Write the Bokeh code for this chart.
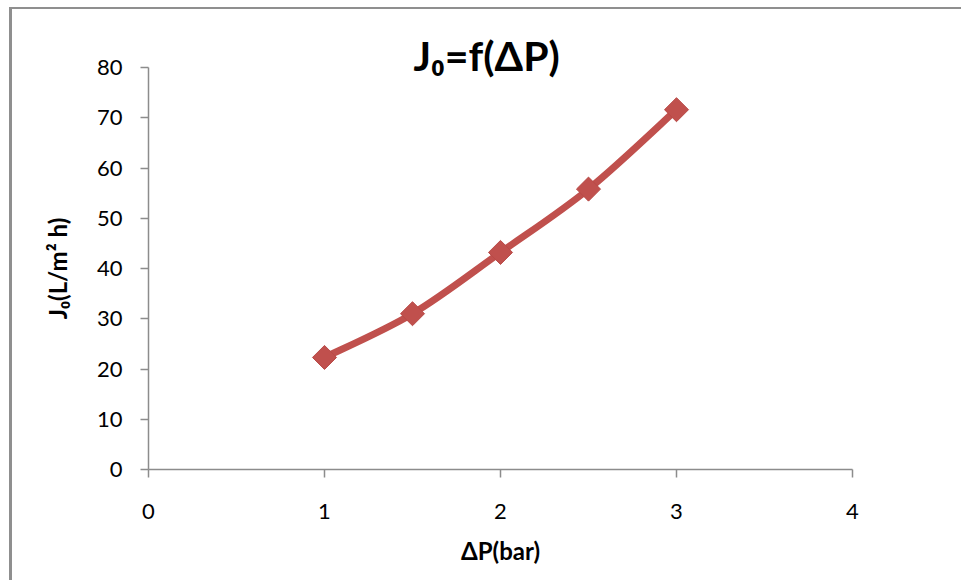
import numpy as np
from bokeh.plotting import figure
from bokeh.models import Range1d
from bokeh.embed import file_html
from bokeh.resources import INLINE

# data
dp = [1.0, 1.5, 2.0, 2.5, 3.0]
j0 = [22.3, 31.0, 43.2, 55.8, 71.6]
x_ticks = [0, 1, 2, 3, 4]
y_ticks = [0, 10, 20, 30, 40, 50, 60, 70, 80]

title_text = "J\u2080=f(\u0394P)"
x_label = "\u0394P(bar)"
y_label = "J\u2080(L/m\u00b2 h)"

RED = "#C0504D"
AXIS = "#8c8c8c"
FONT = "Lato"

p = figure(width=961, height=580, output_backend="svg", toolbar_location=None,
           x_range=Range1d(0, 4), y_range=Range1d(0, 80),
           min_border_left=148, min_border_right=109,
           min_border_top=67, min_border_bottom=111)
p.outline_line_color = None
p.xgrid.visible = False
p.ygrid.visible = False
p.background_fill_color = "white"
p.border_fill_color = None
# cropped chart-area frame of the reference (left and top edges)
p.styles = {
    "background": "linear-gradient(#8f8f8f,#8f8f8f) 9px 7px / 3px 100% no-repeat, "
                  "linear-gradient(#8f8f8f,#8f8f8f) 9px 7px / 100% 2px no-repeat, white"
}

for ax in (p.xaxis[0], p.yaxis[0]):
    ax.axis_line_color = AXIS
    ax.axis_line_width = 1.5
    ax.major_tick_line_color = AXIS
    ax.major_tick_line_width = 1.5
    ax.major_tick_in = 0
    ax.major_tick_out = 8
    ax.minor_tick_line_color = None
    ax.major_label_text_font = FONT
    ax.major_label_text_font_size = "22px"
    ax.major_label_text_color = "black"
    ax.axis_label_text_font = FONT
    ax.axis_label_text_font_style = "bold"
    ax.axis_label_text_font_size = "24px"
    ax.axis_label_text_color = "black"

p.xaxis.ticker = x_ticks
p.yaxis.ticker = y_ticks
p.xaxis.axis_label = x_label
p.yaxis.axis_label = y_label
p.xaxis.major_label_standoff = 26
p.yaxis.major_label_standoff = 18
p.xaxis.axis_label_standoff = 14
p.yaxis.axis_label_standoff = 22

# title
p.title.text = title_text
p.title.align = "left"
p.title.text_font = FONT
p.title.text_font_style = "bold"
p.title.text_font_size = "41px"
p.title.text_color = "black"
p.title.offset = 265
p.title.standoff = -24

# smooth line (Excel-style Catmull-Rom) built from the data points
x = np.array(dp)
y = np.array(j0)
xe = np.concatenate([[x[0]], x, [x[-1]]])
ye = np.concatenate([[y[0]], y, [y[-1]]])
n = len(x)
x0 = x[:-1]; y0 = y[:-1]
x1 = x[1:]; y1 = y[1:]
cx0 = xe[1:n] + (xe[2:n + 1] - xe[0:n - 1]) / 6
cy0 = ye[1:n] + (ye[2:n + 1] - ye[0:n - 1]) / 6
cx1 = xe[2:n + 1] - (xe[3:n + 2] - xe[1:n]) / 6
cy1 = ye[2:n + 1] - (ye[3:n + 2] - ye[1:n]) / 6
p.bezier(x0=x0, y0=y0, x1=x1, y1=y1, cx0=cx0, cy0=cy0, cx1=cx1, cy1=cy1,
         line_color=RED, line_width=7, line_cap="round")

p.scatter(dp, j0, marker="square", angle=np.pi / 4, size=17,
          fill_color=RED, line_color="#B94A47", line_width=1)

open("out.html", "w").write(file_html(p, INLINE))
